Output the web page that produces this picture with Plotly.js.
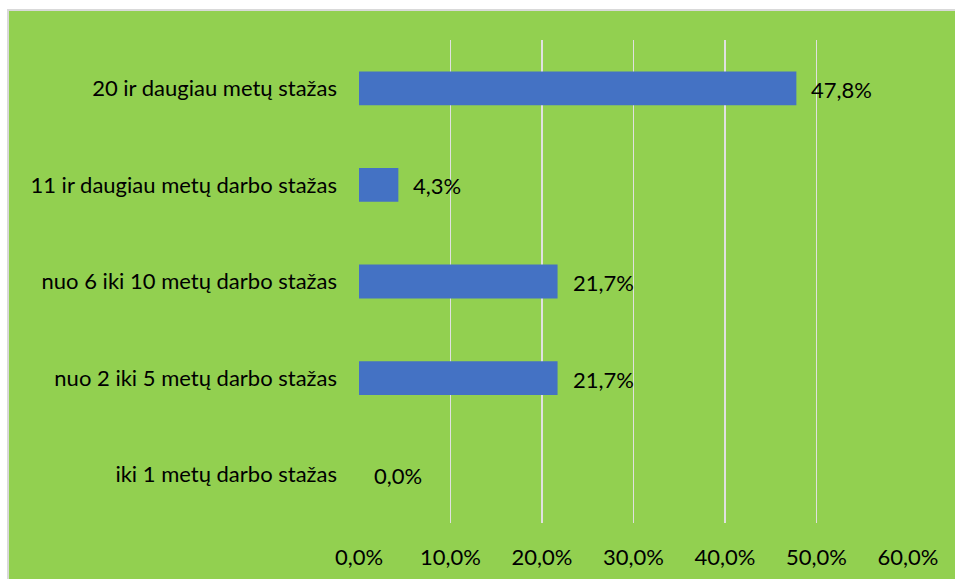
<!DOCTYPE html>
<html>
<head>
<meta charset="utf-8">
<script src="https://cdn.plot.ly/plotly-3.0.1.min.js"></script>
<style>
  html, body { margin: 0; padding: 0; background: #ffffff; overflow: hidden; }
  #plot {
    position: absolute; left: 7px; top: 9px;
    width: 970px; height: 580px;
    border-left: 2px solid #d9d9d9;
    border-top: 2px solid #d9d9d9;
  }
</style>
</head>
<body>
<div id="plot"></div>
<script>
// categories, top to bottom as in the chart
const categories = [
    '20 ir daugiau metų stažas',
    '11 ir daugiau metų darbo stažas',
    'nuo 6 iki 10 metų darbo stažas',
    'nuo 2 iki 5 metų darbo stažas',
    'iki 1 metų darbo stažas'
];
// shares (fraction)
const shares = [0.478, 0.043, 0.217, 0.217, 0.0];
const tickVals = [0, 0.1, 0.2, 0.3, 0.4, 0.5, 0.6];

const green = '#92d050';
const fontStack = 'Lato, "Open Sans", sans-serif';
const fontSize = 22;

const trace = {
    type: 'bar',
    orientation: 'h',
    x: shares,
    y: categories,
    marker: { color: '#4472c4' },
    width: 0.35,
    hoverinfo: 'none'
};

// value labels sit a little to the right of each bar end
const annotations = shares.map((v, i) => ({
    x: v,
    y: categories[i],
    xref: 'x',
    yref: 'y',
    text: (v * 100).toFixed(1).replace('.', ',') + '%',
    showarrow: false,
    xanchor: 'left',
    yanchor: 'middle',
    xshift: 13,
    yshift: -1,
    font: { family: fontStack, size: fontSize, color: '#000000' }
}));

const layout = {
    separators: ',.',
    paper_bgcolor: green,
    plot_bgcolor: green,
    showlegend: false,
    width: 970,
    height: 580,
    margin: { l: 350, r: 71, t: 29, b: 68 },
    font: { family: fontStack, size: fontSize, color: '#000000' },
    annotations: annotations,
    xaxis: {
        range: [0, 0.6],
        tickvals: tickVals,
        tickformat: '.1%',
        showgrid: true,
        gridcolor: '#e0e0e0',
        gridwidth: 1.5,
        zeroline: false,
        showline: false,
        ticks: '',
        ticklabelstandoff: 19,
        fixedrange: true
    },
    yaxis: {
        autorange: 'reversed',
        showgrid: false,
        zeroline: false,
        ticks: '',
        ticklabelstandoff: 21,
        fixedrange: true
    }
};

Plotly.newPlot('plot', [trace], layout, { displayModeBar: false, staticPlot: true });
</script>
</body>
</html>
